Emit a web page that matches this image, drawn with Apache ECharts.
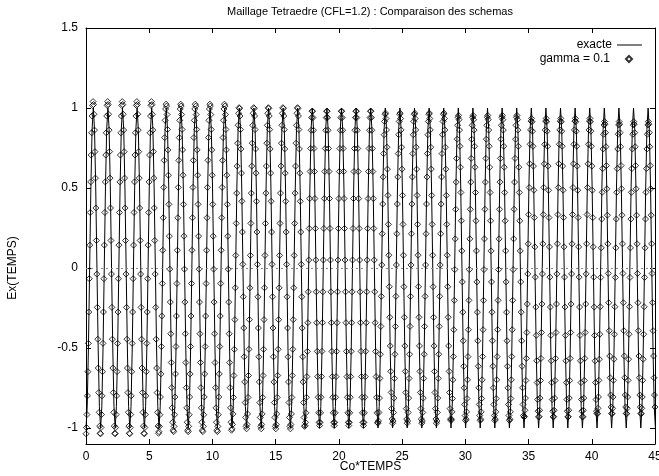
<!DOCTYPE html>
<html><head><meta charset="utf-8">
<script src="https://cdn.jsdelivr.net/npm/echarts@6/dist/echarts.min.js"></script>
<style>html,body{margin:0;padding:0;background:#fff}#c{width:659px;height:476px}</style>
</head><body><div id="c"></div>
<script>
const TITLE = 'Maillage Tetraedre (CFL=1.2) : Comparaison des schemas';
const X_LABEL = 'Co*TEMPS';
const Y_LABEL = 'Ex(TEMPS)';
const X_TICKS = [0, 5, 10, 15, 20, 25, 30, 35, 40, 45];
const Y_TICKS = [-1, -0.5, 0, 0.5, 1, 1.5];
const NAME_EXACT = 'exacte';
const NAME_GAMMA = 'gamma = 0.1';

// time between two stored samples of each curve (Co*TEMPS units)
const EXACT_STEP = 0.096225;
const GAMMA_STEP = 0.037248;

// exact solution Ex, one value per EXACT_STEP, starting at t = 0
const exacteEx = [
-1,-.866,-.5,0,.5,.866,1,.866,.5,0,-.5,-.866,
-1,-.866,-.5,0,.5,.866,1,.866,.5,0,-.5,-.866,
-1,-.866,-.5,0,.5,.866,1,.866,.5,0,-.5,-.866,
-1,-.866,-.5,0,.5,.866,1,.866,.5,0,-.5,-.866,
-1,-.866,-.5,0,.5,.866,1,.866,.5,0,-.5,-.866,
-1,-.866,-.5,0,.5,.866,1,.866,.5,0,-.5,-.866,
-1,-.866,-.5,0,.5,.866,1,.866,.5,0,-.5,-.866,
-1,-.866,-.5,0,.5,.866,1,.866,.5,0,-.5,-.866,
-1,-.866,-.5,0,.5,.866,1,.866,.5,0,-.5,-.866,
-1,-.866,-.5,0,.5,.866,1,.866,.5,0,-.5,-.866,
-1,-.866,-.5,0,.5,.866,1,.866,.5,0,-.5,-.866,
-1,-.866,-.5,0,.5,.866,1,.866,.5,0,-.5,-.866,
-1,-.866,-.5,0,.5,.866,1,.866,.5,0,-.5,-.866,
-1,-.866,-.5,0,.5,.866,1,.866,.5,0,-.5,-.866,
-1,-.866,-.5,0,.5,.866,1,.866,.5,0,-.5,-.866,
-1,-.866,-.5,0,.5,.866,1,.866,.5,0,-.5,-.866,
-1,-.866,-.5,0,.5,.866,1,.866,.5,0,-.5,-.866,
-1,-.866,-.5,0,.5,.866,1,.866,.5,0,-.5,-.866,
-1,-.866,-.5,0,.5,.866,1,.866,.5,0,-.5,-.866,
-1,-.866,-.5,0,.5,.866,1,.866,.5,0,-.5,-.866,
-1,-.866,-.5,0,.5,.866,1,.866,.5,0,-.5,-.866,
-1,-.866,-.5,0,.5,.866,1,.866,.5,0,-.5,-.866,
-1,-.866,-.5,0,.5,.866,1,.866,.5,0,-.5,-.866,
-1,-.866,-.5,0,.5,.866,1,.866,.5,0,-.5,-.866,
-1,-.866,-.5,0,.5,.866,1,.866,.5,0,-.5,-.866,
-1,-.866,-.5,0,.5,.866,1,.866,.5,0,-.5,-.866,
-1,-.866,-.5,0,.5,.866,1,.866,.5,0,-.5,-.866,
-1,-.866,-.5,0,.5,.866,1,.866,.5,0,-.5,-.866,
-1,-.866,-.5,0,.5,.866,1,.866,.5,0,-.5,-.866,
-1,-.866,-.5,0,.5,.866,1,.866,.5,0,-.5,-.866,
-1,-.866,-.5,0,.5,.866,1,.866,.5,0,-.5,-.866,
-1,-.866,-.5,0,.5,.866,1,.866,.5,0,-.5,-.866,
-1,-.866,-.5,0,.5,.866,1,.866,.5,0,-.5,-.866,
-1,-.866,-.5,0,.5,.866,1,.866,.5,0,-.5,-.866,
-1,-.866,-.5,0,.5,.866,1,.866,.5,0,-.5,-.866,
-1,-.866,-.5,0,.5,.866,1,.866,.5,0,-.5,-.866,
-1,-.866,-.5,0,.5,.866,1,.866,.5,0,-.5,-.866,
-1,-.866,-.5,0,.5,.866,1,.866,.5,0,-.5,-.866,
-1,-.866,-.5,0,.5,.866,1,.866,.5,0,-.5,-.866,
-1
];

// computed solution (gamma = 0.1), one value per GAMMA_STEP, starting at t = 0
const gammaEx = [
-1.036,-.997,-.916,-.799,-.648,-.471,-.275,-.067,.143,.347,.538,.706,.845,.950,1.016,1.040,1.022,.961,.862,.727,.562,.375,.172,-.038,-.246,-.445,-.625,-.779,-.902,-.988,-1.033,
-1.036,-.997,-.916,-.799,-.648,-.471,-.275,-.067,.143,.347,.538,.706,.845,.950,1.016,1.040,1.022,.961,.862,.727,.562,.375,.172,-.038,-.246,-.445,-.625,-.779,-.902,-.988,-1.033,
-1.036,-.997,-.916,-.799,-.648,-.471,-.275,-.067,.143,.347,.538,.706,.845,.950,1.016,1.040,1.022,.961,.862,.727,.562,.375,.172,-.038,-.246,-.445,-.625,-.779,-.902,-.988,-1.033,
-1.036,-.997,-.916,-.799,-.648,-.471,-.275,-.067,.143,.347,.538,.706,.845,.950,1.016,1.040,1.022,.961,.862,.727,.562,.375,.172,-.038,-.246,-.445,-.625,-.779,-.902,-.988,-1.033,
-1.036,-.997,-.916,-.799,-.648,-.471,-.275,-.067,.143,.347,.538,.706,.845,.950,1.016,1.040,1.022,.961,.862,.727,.562,.375,.172,-.038,-.246,-.445,-.625,-.779,-.902,-.988,-1.033,
-1.023,-.990,-.917,-.806,-.662,-.491,-.300,-.097,.111,.314,.504,.673,.815,.923,.994,1.024,1.012,.959,.866,.738,.580,.398,.199,-.007,-.213,-.411,-.591,-.748,-.874,-.964,-1.014,
-1.023,-.990,-.917,-.806,-.662,-.491,-.300,-.097,.111,.314,.504,.673,.815,.923,.994,1.024,1.012,.959,.866,.738,.580,.398,.199,-.007,-.213,-.411,-.591,-.748,-.874,-.964,-1.014,
-1.023,-.990,-.917,-.806,-.662,-.491,-.300,-.097,.111,.314,.504,.673,.815,.923,.994,1.024,1.012,.959,.866,.738,.580,.398,.199,-.007,-.213,-.411,-.591,-.748,-.874,-.964,-1.014,
-1.023,-.990,-.917,-.806,-.662,-.491,-.300,-.097,.111,.314,.504,.673,.815,.923,.994,1.024,1.012,.959,.866,.738,.580,.398,.199,-.007,-.213,-.411,-.591,-.748,-.874,-.964,-1.014,
-1.023,-.990,-.917,-.806,-.662,-.491,-.300,-.097,.111,.314,.504,.673,.815,.923,.994,1.024,1.012,.959,.866,.738,.580,.398,.199,-.007,-.213,-.411,-.591,-.748,-.874,-.964,-1.014,
-1.005,-.978,-.912,-.809,-.672,-.508,-.323,-.124,.079,.279,.468,.637,.780,.892,.967,1.002,.997,.950,.865,.744,.593,.417,.225,.023,-.180,-.375,-.555,-.712,-.841,-.934,-.990,
-1.005,-.978,-.912,-.809,-.672,-.508,-.323,-.124,.079,.279,.468,.637,.780,.892,.967,1.002,.997,.950,.865,.744,.593,.417,.225,.023,-.180,-.375,-.555,-.712,-.841,-.934,-.990,
-1.005,-.978,-.912,-.809,-.672,-.508,-.323,-.124,.079,.279,.468,.637,.780,.892,.967,1.002,.997,.950,.865,.744,.593,.417,.225,.023,-.180,-.375,-.555,-.712,-.841,-.934,-.990,
-1.005,-.978,-.912,-.809,-.672,-.508,-.323,-.124,.079,.279,.468,.637,.780,.892,.967,1.002,.997,.950,.865,.744,.593,.417,.225,.023,-.180,-.375,-.555,-.712,-.841,-.934,-.990,
-1.005,-.978,-.912,-.809,-.672,-.508,-.323,-.124,.079,.279,.468,.637,.780,.892,.967,1.002,.997,.950,.865,.744,.593,.417,.225,.023,-.180,-.375,-.555,-.712,-.841,-.934,-.990,
-.985,-.965,-.905,-.808,-.679,-.521,-.342,-.149,.050,.247,.434,.603,.747,.861,.940,.980,.980,.940,.861,.747,.603,.434,.247,.050,-.149,-.342,-.521,-.679,-.808,-.905,-.965,
-.985,-.965,-.905,-.808,-.679,-.521,-.342,-.149,.050,.247,.434,.603,.747,.861,.940,.980,.980,.940,.861,.747,.603,.434,.247,.050,-.149,-.342,-.521,-.679,-.808,-.905,-.965,
-.985,-.965,-.905,-.808,-.679,-.521,-.342,-.149,.050,.247,.434,.603,.747,.861,.940,.980,.980,.940,.861,.747,.603,.434,.247,.050,-.149,-.342,-.521,-.679,-.808,-.905,-.965,
-.985,-.965,-.905,-.808,-.679,-.521,-.342,-.149,.050,.247,.434,.603,.747,.861,.940,.980,.980,.940,.861,.747,.603,.434,.247,.050,-.149,-.342,-.521,-.679,-.808,-.905,-.965,
-.985,-.965,-.905,-.808,-.679,-.521,-.342,-.149,.050,.247,.434,.603,.747,.861,.940,.980,.980,.940,.861,.747,.603,.434,.247,.050,-.149,-.342,-.521,-.679,-.808,-.905,-.965,
-.970,-.956,-.903,-.813,-.690,-.539,-.365,-.177,.019,.214,.400,.569,.715,.833,.916,.961,.968,.934,.863,.755,.618,.454,.273,.080,-.117,-.308,-.487,-.646,-.778,-.879,-.944,
-.970,-.956,-.903,-.813,-.690,-.539,-.365,-.177,.019,.214,.400,.569,.715,.833,.916,.961,.968,.934,.863,.755,.618,.454,.273,.080,-.117,-.308,-.487,-.646,-.778,-.879,-.944,
-.970,-.956,-.903,-.813,-.690,-.539,-.365,-.177,.019,.214,.400,.569,.715,.833,.916,.961,.968,.934,.863,.755,.618,.454,.273,.080,-.117,-.308,-.487,-.646,-.778,-.879,-.944,
-.970,-.956,-.903,-.813,-.690,-.539,-.365,-.177,.019,.214,.400,.569,.715,.833,.916,.961,.968,.934,.863,.755,.618,.454,.273,.080,-.117,-.308,-.487,-.646,-.778,-.879,-.944,
-.970,-.956,-.903,-.813,-.690,-.539,-.365,-.177,.019,.214,.400,.569,.715,.833,.916,.961,.968,.934,.863,.755,.618,.454,.273,.080,-.117,-.308,-.487,-.646,-.778,-.879,-.944,
-.953,-.945,-.899,-.816,-.699,-.554,-.386,-.202,-.010,.182,.367,.537,.685,.805,.892,.942,.954,.927,.862,.761,.630,.472,.295,.107,-.087,-.276,-.455,-.614,-.749,-.853,-.922,
-.953,-.945,-.899,-.816,-.699,-.554,-.386,-.202,-.010,.182,.367,.537,.685,.805,.892,.942,.954,.927,.862,.761,.630,.472,.295,.107,-.087,-.276,-.455,-.614,-.749,-.853,-.922,
-.953,-.945,-.899,-.816,-.699,-.554,-.386,-.202,-.010,.182,.367,.537,.685,.805,.892,.942,.954,.927,.862,.761,.630,.472,.295,.107,-.087,-.276,-.455,-.614,-.749,-.853,-.922,
-.953,-.945,-.899,-.816,-.699,-.554,-.386,-.202,-.010,.182,.367,.537,.685,.805,.892,.942,.954,.927,.862,.761,.630,.472,.295,.107,-.087,-.276,-.455,-.614,-.749,-.853,-.922,
-.953,-.945,-.899,-.816,-.699,-.554,-.386,-.202,-.010,.182,.367,.537,.685,.805,.892,.942,.954,.927,.862,.761,.630,.472,.295,.107,-.087,-.276,-.455,-.614,-.749,-.853,-.922,
-.931,-.929,-.889,-.813,-.703,-.565,-.403,-.225,-.037,.151,.334,.503,.651,.773,.863,.918,.935,.914,.855,.761,.637,.486,.315,.132,-.057,-.244,-.421,-.580,-.716,-.822,-.895,
-.931,-.929,-.889,-.813,-.703,-.565,-.403,-.225,-.037,.151,.334,.503,.651,.773,.863,.918,.935,.914,.855,.761,.637,.486,.315,.132,-.057,-.244,-.421,-.580,-.716,-.822,-.895,
-.931,-.929,-.889,-.813,-.703,-.565,-.403,-.225,-.037,.151,.334,.503,.651,.773,.863,.918,.935,.914,.855,.761,.637,.486,.315,.132,-.057,-.244,-.421,-.580,-.716,-.822,-.895,
-.931,-.929,-.889,-.813,-.703,-.565,-.403,-.225,-.037,.151,.334,.503,.651,.773,.863,.918,.935,.914,.855,.761,.637,.486,.315,.132,-.057,-.244,-.421,-.580,-.716,-.822,-.895,
-.931,-.929,-.889,-.813,-.703,-.565,-.403,-.225,-.037,.151,.334,.503,.651,.773,.863,.918,.935,.914,.855,.761,.637,.486,.315,.132,-.057,-.244,-.421,-.580,-.716,-.822,-.895,
-.909,-.911,-.877,-.806,-.702,-.570,-.414,-.242,-.059,.126,.306,.473,.621,.744,.836,.894,.915,.899,.846,.758,.640,.495,.330,.151,-.034,-.217,-.392,-.550,-.686,-.794,-.869,
-.909,-.911,-.877,-.806,-.702,-.570,-.414,-.242,-.059,.126,.306,.473,.621,.744,.836,.894,.915,.899,.846,.758,.640,.495,.330,.151,-.034,-.217,-.392,-.550,-.686,-.794,-.869,
-.909,-.911,-.877,-.806,-.702,-.570,-.414,-.242,-.059,.126,.306,.473,.621,.744,.836,.894,.915,.899,.846,.758,.640,.495,.330,.151,-.034,-.217,-.392,-.550,-.686,-.794,-.869,
-.909,-.911,-.877,-.806,-.702,-.570,-.414,-.242,-.059,.126,.306,.473,.621,.744,.836,.894,.915,.899,.846,.758,.640,.495,.330,.151,-.034,-.217,-.392,-.550,-.686,-.794,-.869
];

const exactData = exacteEx.map((v, i) => [i * EXACT_STEP, v]);
const gammaData = gammaEx.map((v, i) => [i * GAMMA_STEP, v]);

const FONT = 'Liberation Sans, Arial, Helvetica, sans-serif';
const chart = echarts.init(document.getElementById('c'), null, {renderer: 'canvas'});
const axisCommon = {
  axisLine: {show: true, onZero: false, lineStyle: {color: '#000', width: 1}},
  splitLine: {show: false},
};
chart.setOption({
  animation: false,
  backgroundColor: '#fff',
  textStyle: {fontFamily: FONT, color: '#000'},
  title: {
    text: TITLE, left: 370, top: 6, textAlign: 'center', padding: 0,
    textStyle: {fontSize: 11, fontWeight: 'normal', color: '#000', fontFamily: FONT}
  },
  grid: {left: 86, right: 4, top: 28, bottom: 32, containLabel: false, outerBoundsMode: 'none'},
  legend: [
    {data: [{name: NAME_EXACT, icon: 'rect'}], orient: 'vertical', align: 'right', right: 17, top: 38, padding: 0,
     itemWidth: 25, itemHeight: 1, itemStyle: {color: '#000', borderWidth: 0},
     textStyle: {fontSize: 12, color: '#000', fontFamily: FONT, lineHeight: 14}},
    {data: [NAME_GAMMA], orient: 'vertical', align: 'right', right: 26, top: 53, padding: 0,
     itemWidth: 6, itemHeight: 6,
     textStyle: {fontSize: 12, color: '#000', fontFamily: FONT, padding: [0, 11, 0, 0]}}
  ],
  xAxis: [
    Object.assign({type: 'value', position: 'bottom', min: X_TICKS[0], max: X_TICKS[X_TICKS.length - 1], interval: 5,
      name: X_LABEL, nameLocation: 'middle', nameGap: 17, nameMoveOverlap: false,
      nameTextStyle: {fontSize: 12, color: '#000', fontFamily: FONT},
      axisTick: {show: true, inside: true, length: 5, lineStyle: {color: '#000'}},
      axisLabel: {show: true, margin: 7, fontSize: 12, color: '#000', fontFamily: FONT, hideOverlap: false}}, axisCommon),
    Object.assign({type: 'value', position: 'top', min: X_TICKS[0], max: X_TICKS[X_TICKS.length - 1], interval: 5,
      axisTick: {show: true, inside: true, length: 5, lineStyle: {color: '#000'}},
      axisLabel: {show: false}}, axisCommon)
  ],
  yAxis: [
    Object.assign({type: 'value', position: 'left', min: -1.1, max: 1.5,
      axisTick: {show: true, inside: true, length: 5, customValues: Y_TICKS, lineStyle: {color: '#000'}},
      axisLabel: {show: true, margin: 8, fontSize: 12, color: '#000', fontFamily: FONT, customValues: Y_TICKS}}, axisCommon),
    Object.assign({type: 'value', position: 'right', min: -1.1, max: 1.5,
      axisTick: {show: true, inside: true, length: 5, customValues: Y_TICKS, lineStyle: {color: '#000'}},
      axisLabel: {show: false}}, axisCommon)
  ],
  graphic: [
    {type: 'text', x: 13, y: 268, rotation: Math.PI / 2,
     style: {text: Y_LABEL, fill: '#000', font: '12px ' + FONT, align: 'center', verticalAlign: 'middle'}}
  ],
  series: [
    {name: NAME_EXACT, type: 'line', data: exactData, xAxisIndex: 0, yAxisIndex: 0,
     symbol: 'none', showSymbol: false, clip: true,
     lineStyle: {color: '#000', width: 1}, itemStyle: {color: '#000'},
     markLine: {silent: true, symbol: 'none', label: {show: false},
       lineStyle: {color: '#888', width: 1, type: [2, 3]}, data: [{yAxis: 0}]}},
    {name: NAME_GAMMA, type: 'scatter', data: gammaData, xAxisIndex: 0, yAxisIndex: 0,
     symbol: 'diamond', symbolSize: 6, clip: true,
     itemStyle: {color: 'rgba(0,0,0,0)', borderColor: '#000', borderWidth: 1}}
  ]
});
</script>
</body></html>
